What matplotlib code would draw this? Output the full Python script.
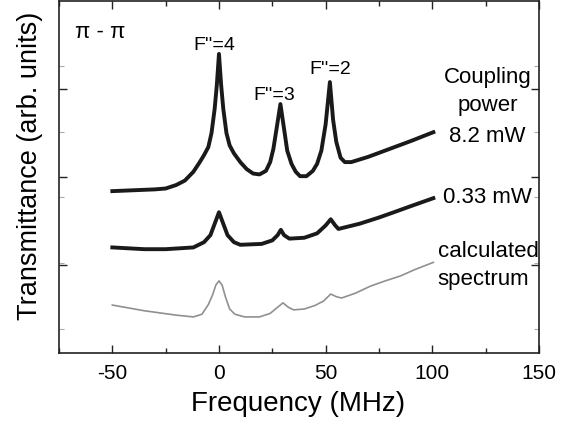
import matplotlib.pyplot as plt
from matplotlib.ticker import MultipleLocator, FixedLocator

plt.rcParams['font.family'] = ['Liberation Sans', 'DejaVu Sans']
plt.rcParams['axes.unicode_minus'] = False

# %% data (frequency in MHz, transmittance in arb. units)
freq_hi = [-50, -40, -30, -25, -20, -16, -12, -9, -7, -5, -3.5, -2, -1, 0, 1, 2,
           3.5, 5, 7, 10, 13, 16, 19, 22, 24, 25.5, 27, 28.8, 30.5, 32, 34, 36,
           38, 41, 44, 46, 48, 50, 52, 53.5, 55, 57, 59, 62, 70, 80, 90, 100.5]
trans_hi = [1.84, 1.85, 1.86, 1.87, 1.91, 1.96, 2.06, 2.17, 2.25, 2.34, 2.50, 2.78,
            3.05, 3.40, 3.05, 2.78, 2.50, 2.36, 2.27, 2.17, 2.09, 2.04, 2.03, 2.07,
            2.17, 2.32, 2.55, 2.83, 2.55, 2.30, 2.15, 2.06, 2.01, 2.01, 2.07, 2.15,
            2.30, 2.60, 3.08, 2.65, 2.40, 2.22, 2.17, 2.17, 2.23, 2.32, 2.41, 2.51]

freq_lo = [-50, -35, -25, -12, -7, -4, -2, 0, 2, 4, 7, 10, 20, 25, 27.5, 29, 30.5,
           33, 40, 46, 50, 52.4, 54.5, 56, 66, 75, 82, 90, 100.5]
trans_lo = [1.20, 1.18, 1.18, 1.20, 1.26, 1.34, 1.47, 1.60, 1.47, 1.34, 1.26, 1.23,
            1.24, 1.28, 1.34, 1.40, 1.34, 1.30, 1.31, 1.36, 1.45, 1.52, 1.45, 1.41,
            1.47, 1.54, 1.60, 1.67, 1.76]

freq_calc = [-50, -35, -20, -12, -8, -5, -3, -1.5, 0, 1.5, 3, 5, 7.5, 12, 19, 24,
             27.5, 30, 32.5, 35, 40, 45, 49, 52.4, 55, 57.5, 64, 71, 78, 85, 92,
             100.5]
trans_calc = [0.545, 0.48, 0.43, 0.41, 0.44, 0.55, 0.66, 0.77, 0.82, 0.77, 0.64,
              0.50, 0.44, 0.41, 0.41, 0.45, 0.52, 0.57, 0.52, 0.49, 0.50, 0.54,
              0.59, 0.67, 0.64, 0.625, 0.68, 0.76, 0.82, 0.875, 0.95, 1.03]

peak_labels = ["F''=4", "F''=3", "F''=2"]
peak_pos = [(-2, 3.51), (26, 2.94), (52.4, 3.23)]

# %% figure
fig = plt.figure(figsize=(5.7, 4.27), dpi=100)
ax = fig.add_axes([0.1035, 0.171, 0.842, 0.824])

ax.plot(freq_hi, trans_hi, color='#1a1a1a', lw=2.8, solid_joinstyle='round')
ax.plot(freq_lo, trans_lo, color='#1a1a1a', lw=2.8, solid_joinstyle='round')
ax.plot(freq_calc, trans_calc, color='#909090', lw=1.2)

ax.set_xlim(-75, 150)
ax.set_ylim(0, 4)
ax.xaxis.set_major_locator(FixedLocator([-50, 0, 50, 100, 150]))
ax.xaxis.set_minor_locator(MultipleLocator(25))
ax.yaxis.set_major_locator(FixedLocator([1, 2, 3]))
ax.yaxis.set_minor_locator(FixedLocator([0.27, 1.02, 1.77, 2.51, 3.26]))
ax.set_yticklabels([])

ax.tick_params(which='both', direction='in', top=True, right=True,
               labelsize=15, color='#222222', width=1.0, pad=7)
ax.tick_params(which='major', length=6)
ax.tick_params(which='minor', length=3.5)
ax.tick_params(axis='y', which='minor', color='#aaaaaa', width=0.8)
for s in ax.spines.values():
    s.set_linewidth(1.2)
    s.set_color('#222222')

ax.set_xlabel('Frequency (MHz)', fontsize=20)
ax.xaxis.set_label_coords(0.498, -0.105)
ax.set_ylabel('Transmittance (arb. units)', fontsize=19.5)
ax.yaxis.set_label_coords(-0.033, 0.535)

# %% annotations
ax.text(-55.7, 3.65, 'π - π', fontsize=16, ha='center', va='center')
for lab, (px, py) in zip(peak_labels, peak_pos):
    ax.text(px, py, lab, fontsize=14, ha='center', va='center')

ax.text(126, 3.14, 'Coupling', fontsize=16, ha='center', va='center')
ax.text(126, 2.83, 'power', fontsize=16, ha='center', va='center')
ax.text(126, 2.47, '8.2 mW', fontsize=16, ha='center', va='center')
ax.text(126, 1.78, '0.33 mW', fontsize=16, ha='center', va='center')
ax.text(102.5, 1.16, 'calculated', fontsize=16, ha='left', va='center')
ax.text(102.5, 0.85, 'spectrum', fontsize=16, ha='left', va='center')

fig.savefig('out.png', dpi=100)
